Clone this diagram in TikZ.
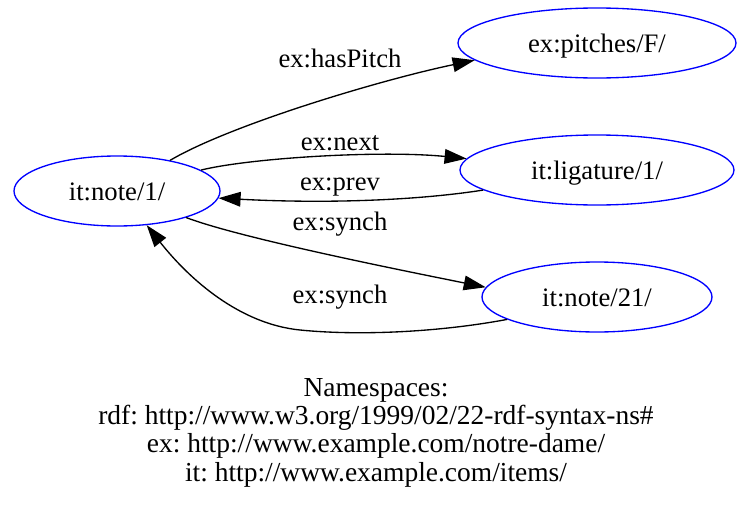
\documentclass[tikz,border=0pt]{standalone}
\usepackage{fontspec}
\setmainfont{Liberation Serif}
\usetikzlibrary{arrows.meta, shapes.geometric}
\frenchspacing

\begin{document}
\begin{tikzpicture}[x=0.75pt, y=-0.75pt,
		base/.style = {draw=blue, line width=1pt, inner sep=0pt, minimum height=52.5pt, font=\fontsize{20}{24}\selectfont, text height=14pt, text depth=0.5pt} , 
		res/.style = {ellipse, base},
		lbl/.style = {anchor=base, inner sep=0pt, font=\fontsize{20}{24}\selectfont},
		ns/.style = {lbl, font=\fontsize{20.6}{24}\selectfont},
		edge/.style = {-{Triangle[length=16.5pt,width=11pt]}, line width=1pt}
		]
		\useasboundingbox (0,0) rectangle (751,507);
		\node (A) [res, minimum width=154.5pt] at (117,191) {it:note/1/};
		\node (B) [res, minimum width=208.5pt] at (597,43) {ex:pitches/F/};
		\node (C) [res, minimum width=205.5pt] at (597,170) {it:ligature/1/};
		\node (D) [res, minimum width=172.5pt] at (597,297) {it:note/21/};
		
		\draw[edge] (A.30) .. controls (230,125) and (380,80) .. (B.188);
		\draw[edge] (A.14) .. controls (250,158) and (380,150) .. (C.175);
		\draw[edge] (C.190) .. controls (420,200) and (330,204) .. (A.-4);
		\draw[edge] (A.-21) .. controls (240,238) and (400,270) .. (D.175);
		\draw[edge] (D.194) .. controls (440,332) and (360,336) .. (300,330)
			.. controls (240,324) and (190,280) .. (A.-49);
		
		\node (L1) [lbl] at (340,67) {ex:hasPitch};
		\node (L2) [lbl] at (340,150) {ex:next};
		\node (L3) [lbl] at (340,190) {ex:prev};
		\node (L4) [lbl] at (340,230) {ex:synch};
		\node (L5) [lbl] at (340,303) {ex:synch};
		
		\node (N1) [ns] at (376,396) {Namespaces:};
		\node (N2) [ns] at (376,424) {rdf: http://www.w3.org/1999/02/22-rdf-syntax-ns\#};
		\node (N3) [ns] at (376,452) {ex: http://www.example.com/notre-dame/};
		\node (N4) [ns] at (376,481) {it: http://www.example.com/items/};
	\end{tikzpicture}
\end{document}
